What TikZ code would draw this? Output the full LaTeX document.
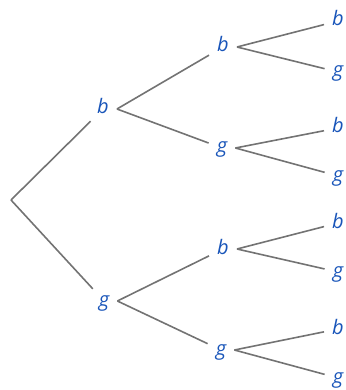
\documentclass[tikz,border=0pt]{standalone}
\usepackage{fontspec}
\setmainfont{Open Sans}
\usepackage{tikz}
\definecolor{labelblue}{RGB}{25,85,185}
\definecolor{branchgray}{RGB}{115,115,115}
\tikzset{
  outcome/.style={font=\fontsize{20}{22}\selectfont\itshape, text=labelblue,
    text height=14pt, text depth=4pt, inner xsep=8pt, inner ysep=3pt},
  branch/.style={draw=branchgray, line width=1.6pt},
}

\begin{document}
\begin{tikzpicture}[x=1pt, y=-1pt]
  \useasboundingbox (0,0) rectangle (345,390);
  \coordinate (root) at (11,200);
  % first draw
  \node[outcome] (b) at (103,109) {b};
  \node[outcome] (g) at (104,301) {g};
  % second draw
  \node[outcome] (bb) at (223,47) {b};
  \node[outcome] (bg) at (222,148) {g};
  \node[outcome] (gb) at (223,249) {b};
  \node[outcome] (gg) at (221,350) {g};
  % third draw
  \node[outcome] (bbb) at (338,21) {b};
  \node[outcome] (bbg) at (338,72) {g};
  \node[outcome] (bgb) at (338,128) {b};
  \node[outcome] (bgg) at (338,176) {g};
  \node[outcome] (gbb) at (338,223) {b};
  \node[outcome] (gbg) at (338,272) {g};
  \node[outcome] (ggb) at (338,329) {b};
  \node[outcome] (ggg) at (338,378) {g};

  \draw[branch] (root) -- (b);
  \draw[branch] (root) -- (g);
  \draw[branch] (b.east) -- (bb);
  \draw[branch] (b.east) -- (bg);
  \draw[branch] (g.east) -- (gb);
  \draw[branch] (g.east) -- (gg);
  \draw[branch] (bb.east) -- (bbb);
  \draw[branch] (bb.east) -- (bbg);
  \draw[branch] (bg.east) -- (bgb);
  \draw[branch] (bg.east) -- (bgg);
  \draw[branch] (gb.east) -- (gbb);
  \draw[branch] (gb.east) -- (gbg);
  \draw[branch] (gg.east) -- (ggb);
  \draw[branch] (gg.east) -- (ggg);
\end{tikzpicture}
\end{document}
